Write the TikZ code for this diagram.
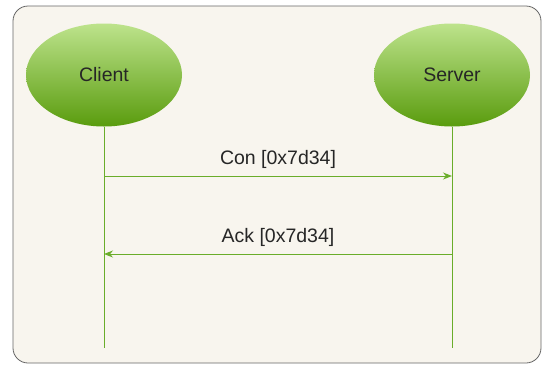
\documentclass[tikz,border=0pt]{standalone}
\usepackage{fontspec}
\setmainfont{Liberation Sans}
\usetikzlibrary{shapes.geometric,arrows.meta}
\definecolor{bgc}{HTML}{F8F5EE}
\definecolor{brd}{HTML}{666666}
\definecolor{lgreen}{HTML}{6AAD2A}
\definecolor{gtop}{HTML}{BDE38C}
\definecolor{gbot}{HTML}{5A9C0E}
\tikzset{
  actor/.style={ellipse, minimum width=156pt, minimum height=103pt, inner sep=0pt,
    top color=gtop, bottom color=gbot, draw=none, font=\fontsize{19.5}{22}\selectfont, text=black!85},
  life/.style={draw=lgreen, line width=1pt},
  msg/.style={draw=lgreen, line width=1pt, -{Stealth[length=9pt,width=7pt]}},
  lbl/.style={font=\fontsize{19.5}{22}\selectfont, text=black!85}
}
\begin{document}
\begin{tikzpicture}[x=1pt,y=-1pt]
\useasboundingbox (0,0) rectangle (542,365);
\draw[brd, fill=bgc, line width=0.8pt, rounded corners=15pt] (13,6) rectangle (541,363);
\node[actor] (client) at (104,75) {Client};
\node[actor] (server) at (452,75) {Server};
\coordinate (cend) at (104,348);
\coordinate (send) at (452,348);
\draw[life] (client.south) -- (cend);
\draw[life] (server.south) -- (send);
\coordinate (c1) at (104,176);
\coordinate (s1) at (452,176);
\coordinate (c2) at (104,254);
\coordinate (s2) at (452,254);
\draw[msg] (c1) -- (s1) node[lbl, midway, above=4pt] (conl) {Con [0x7d34]};
\draw[msg] (s2) -- (c2) node[lbl, midway, above=4pt] (ackl) {Ack [0x7d34]};
\end{tikzpicture}
\end{document}
